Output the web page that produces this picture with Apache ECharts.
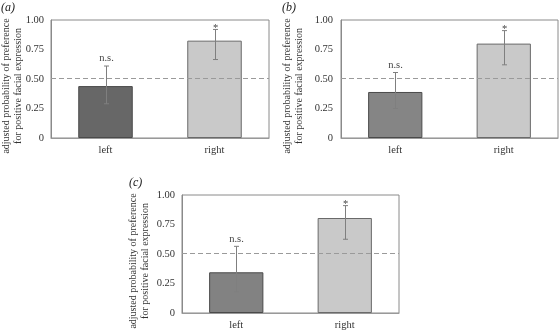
<!DOCTYPE html>
<html>
<head>
<meta charset="utf-8">
<script src="https://cdn.jsdelivr.net/npm/echarts@6/dist/echarts.min.js"></script>
<style>html,body{margin:0;padding:0;background:#fff}#c{width:560px;height:331px}</style>
</head>
<body>
<div id="c"></div>
<script>
var categories = ['left', 'right'];
var sigLabels = ['n.s.', '*'];
var chanceLevel = 0.51;
var yTicks = [0, 0.25, 0.5, 0.75, 1];

var valuesA = [0.44, 0.825];
var errLowA = [0.29, 0.665];
var errHighA = [0.61, 0.92];

var valuesB = [0.39, 0.80];
var errLowB = [0.25, 0.62];
var errHighB = [0.555, 0.91];

var valuesC = [0.345, 0.805];
var errLowC = [0.18, 0.625];
var errHighC = [0.565, 0.91];

var panelLabels = ['(a)', '(b)', '(c)'];
var yTitle = ['adjusted probability of preference', 'for positive facial expression'];

var FONT = '"Liberation Serif", "DejaVu Serif", serif';
var leftColors = ['#676767', '#858585', '#828282'];
var rightColor = '#c9c9c9';

var grids = [
  {left: 51, top: 20, width: 218, height: 118},
  {left: 341, top: 20, width: 217, height: 118},
  {left: 182, top: 195, width: 217, height: 118}
];

var panels = [
  {v: valuesA, lo: errLowA, hi: errHighA},
  {v: valuesB, lo: errLowB, hi: errHighB},
  {v: valuesC, lo: errLowC, hi: errHighC}
];

var xAxes = [], yAxes = [], series = [], gridOpts = [];
panels.forEach(function (p, i) {
  var g = grids[i];
  gridOpts.push({left: g.left, top: g.top, width: g.width, height: g.height,
    show: true, borderColor: '#8a8a8a', borderWidth: 1, backgroundColor: 'transparent'});
  xAxes.push({type: 'category', gridIndex: i, data: categories,
    axisLine: {lineStyle: {color: '#999'}}, axisTick: {show: false},
    axisLabel: {fontFamily: FONT, fontSize: 10.5, color: '#333', margin: 7}});
  yAxes.push({type: 'value', gridIndex: i, min: 0, max: 1, interval: 0.25,
    axisLine: {show: true, lineStyle: {color: '#8a8a8a'}}, axisTick: {show: false},
    splitLine: {show: false},
    axisLabel: {fontFamily: FONT, fontSize: 10.5, color: '#333', margin: i === 1 ? 8 : 7,
      formatter: function (val) { return val === 0 ? '0' : val.toFixed(2); }}});
  series.push({type: 'bar', xAxisIndex: i, yAxisIndex: i, barWidth: '50%',
    data: p.v.map(function (val, k) {
      return {value: val, itemStyle: {color: k === 0 ? leftColors[i] : rightColor,
        borderColor: k === 0 ? '#4a4a4a' : '#6a6a6a', borderWidth: 1}};
    }),
    markLine: {silent: true, symbol: 'none', label: {show: false},
      lineStyle: {type: [5, 3], color: '#9a9a9a', width: 1},
      data: [{yAxis: chanceLevel}]},
    z: 2});
  series.push({type: 'custom', xAxisIndex: i, yAxisIndex: i, z: 5,
    data: p.v.map(function (val, k) { return [k, p.lo[k], p.hi[k]]; }),
    renderItem: function (params, api) {
      var x = api.value(0);
      var lo = api.coord([x, api.value(1)]);
      var hi = api.coord([x, api.value(2)]);
      var cx = Math.round(lo[0]) + 0.5;
      var st = {stroke: '#7f7f7f', lineWidth: 1};
      var lab = sigLabels[params.dataIndex];
      var isStar = lab === '*';
      return {type: 'group', children: [
        {type: 'line', shape: {x1: cx, y1: lo[1], x2: cx, y2: hi[1]}, style: st},
        {type: 'line', shape: {x1: cx - 2.5, y1: lo[1], x2: cx + 2.5, y2: lo[1]}, style: st},
        {type: 'line', shape: {x1: cx - 2.5, y1: hi[1], x2: cx + 2.5, y2: hi[1]}, style: st},
        {type: 'text', x: cx, y: isStar ? hi[1] - 7 : hi[1] - 2,
          style: {text: lab, fontFamily: FONT, fontSize: 10.5, fill: '#444',
            align: 'center', verticalAlign: isStar ? 'top' : 'bottom'}}
      ]};
    }});
});

var titlePos = [
  {x1: 6, x2: 18, y: 86},
  {x1: 287, x2: 299, y: 86},
  {x1: 133, x2: 145, y: 261}
];
var panelPos = [[1, 2], [282, 2], [129, 177]];
var graphics = [];
titlePos.forEach(function (t, i) {
  graphics.push({type: 'text', x: t.x1, y: t.y, rotation: Math.PI / 2,
    style: {text: yTitle[0], fontFamily: FONT, fontSize: 10, fill: '#333', align: 'center', verticalAlign: 'middle'}});
  graphics.push({type: 'text', x: t.x2, y: t.y, rotation: Math.PI / 2,
    style: {text: yTitle[1], fontFamily: FONT, fontSize: 10, fill: '#333', align: 'center', verticalAlign: 'middle'}});
  graphics.push({type: 'text', x: panelPos[i][0], y: panelPos[i][1],
    style: {text: panelLabels[i], fontFamily: FONT, fontStyle: 'italic', fontSize: 12, fill: '#222'}});
});

var chart = echarts.init(document.getElementById('c'));
chart.setOption({
  animation: false,
  backgroundColor: '#fff',
  grid: gridOpts,
  xAxis: xAxes,
  yAxis: yAxes,
  series: series,
  graphic: graphics
});
</script>
</body>
</html>
